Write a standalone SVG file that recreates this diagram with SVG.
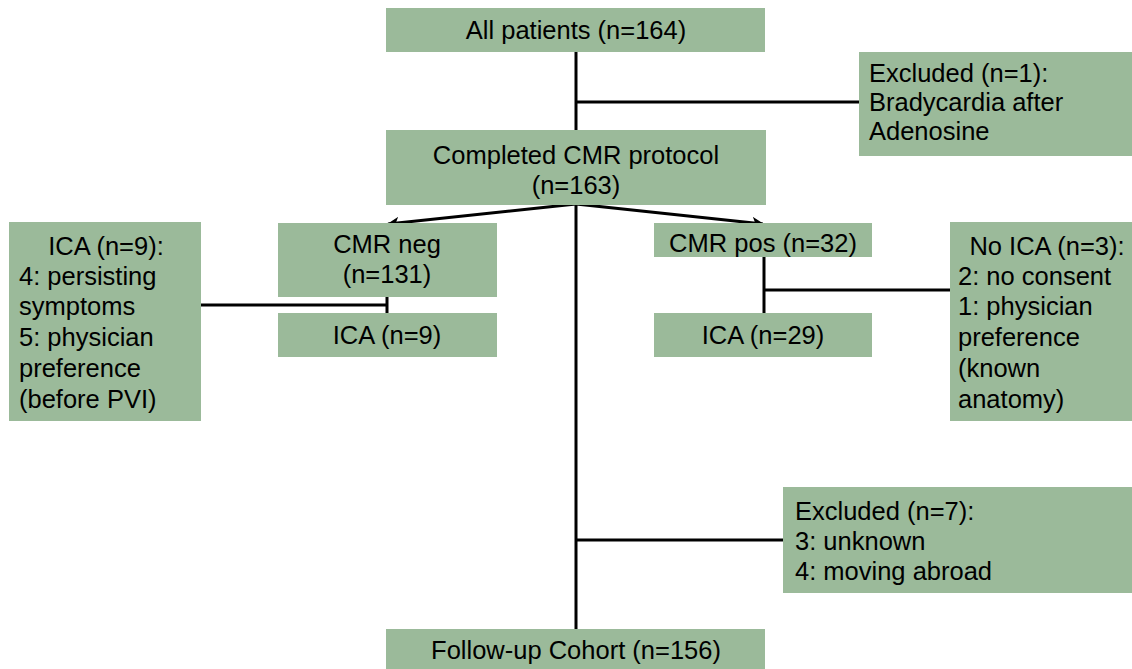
<svg xmlns="http://www.w3.org/2000/svg" width="1132" height="669" viewBox="0 0 1132 669">
<style>
.box{fill:#9bba9a;stroke:none}
.t{font-family:"Liberation Sans",Arial,sans-serif;font-size:25.5px;fill:#000}
.c{text-anchor:middle}
.ln{stroke:#000;stroke-width:3;fill:none}
</style>
<defs>
<marker id="ah" viewBox="0 0 10 10" refX="9" refY="5" markerWidth="4.5" markerHeight="4" orient="auto" markerUnits="strokeWidth">
<path d="M0,0 L10,5 L0,10 L2.5,5 z" fill="#000"/>
</marker>
</defs>
<rect width="1132" height="669" fill="#fff"/>
<g id="connectors">
<line class="ln" x1="576" y1="52" x2="576" y2="130"/>
<line class="ln" x1="576" y1="102" x2="859" y2="102"/>
<line class="ln" x1="576" y1="204" x2="388" y2="224" marker-end="url(#ah)"/>
<line class="ln" x1="576" y1="204" x2="763" y2="224" marker-end="url(#ah)"/>
<line class="ln" x1="576" y1="204" x2="576" y2="629"/>
<line class="ln" x1="201" y1="305" x2="387" y2="305"/>
<line class="ln" x1="387" y1="297" x2="387" y2="313"/>
<line class="ln" x1="764" y1="257" x2="764" y2="313"/>
<line class="ln" x1="764" y1="290" x2="950" y2="290"/>
<line class="ln" x1="576" y1="540" x2="783" y2="540"/>
</g>
<g id="all">
<rect class="box" x="386" y="8" width="379" height="44"/>
<text class="t c" x="576" y="39">All patients (n=164)</text>
</g>
<g id="excluded1">
<rect class="box" x="859" y="52" width="273" height="104"/>
<text class="t" x="869" y="82">Excluded (n=1):</text>
<text class="t" x="869" y="111">Bradycardia after</text>
<text class="t" x="869" y="140">Adenosine</text>
</g>
<g id="completed">
<rect class="box" x="386" y="130" width="380" height="75"/>
<text class="t c" x="576" y="164">Completed CMR protocol</text>
<text class="t c" x="576" y="194">(n=163)</text>
</g>
<g id="ica-neg-detail">
<rect class="box" x="9" y="222" width="192" height="199"/>
<text class="t c" x="106" y="255">ICA (n=9):</text>
<text class="t" x="19" y="285">4: persisting</text>
<text class="t" x="19" y="315">symptoms</text>
<text class="t" x="19" y="346">5: physician</text>
<text class="t" x="19" y="377">preference</text>
<text class="t" x="19" y="408">(before PVI)</text>
</g>
<g id="cmr-neg">
<rect class="box" x="278" y="223" width="219" height="74"/>
<text class="t c" x="387" y="253">CMR neg</text>
<text class="t c" x="387" y="283">(n=131)</text>
</g>
<g id="ica-neg">
<rect class="box" x="278" y="313" width="219" height="44"/>
<text class="t c" x="387" y="344">ICA (n=9)</text>
</g>
<g id="cmr-pos">
<rect class="box" x="654" y="223" width="218" height="34"/>
<text class="t c" x="763" y="252">CMR pos (n=32)</text>
</g>
<g id="ica-pos">
<rect class="box" x="654" y="313" width="218" height="44"/>
<text class="t c" x="763" y="344">ICA (n=29)</text>
</g>
<g id="no-ica">
<rect class="box" x="950" y="222" width="182" height="199"/>
<text class="t c" x="1047" y="255">No ICA (n=3):</text>
<text class="t" x="958" y="285">2: no consent</text>
<text class="t" x="958" y="315">1: physician</text>
<text class="t" x="958" y="346">preference</text>
<text class="t" x="958" y="377">(known</text>
<text class="t" x="958" y="408">anatomy)</text>
</g>
<g id="excluded7">
<rect class="box" x="783" y="487" width="349" height="106"/>
<text class="t" x="795" y="520">Excluded (n=7):</text>
<text class="t" x="795" y="550">3: unknown</text>
<text class="t" x="795" y="580">4: moving abroad</text>
</g>
<g id="followup">
<rect class="box" x="386" y="629" width="379" height="40"/>
<text class="t c" x="576" y="659">Follow-up Cohort (n=156)</text>
</g>
</svg>
